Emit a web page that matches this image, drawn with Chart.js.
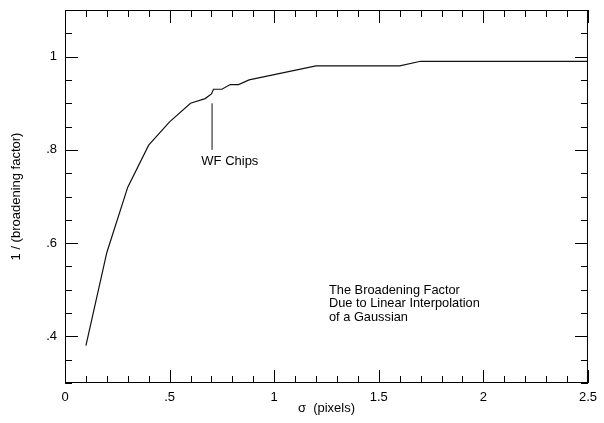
<!DOCTYPE html>
<html>
<head>
<meta charset="utf-8">
<script src="https://cdn.jsdelivr.net/npm/chart.js@4"></script>
<style>
  html, body { margin: 0; padding: 0; background: #fff; }
  #wrap { width: 604px; height: 423px; }
</style>
</head>
<body>
<div id="wrap"><canvas id="curve"></canvas></div>
<script>
// valores
const sigma  = [0.1, 0.2, 0.3, 0.4, 0.5, 0.6, 0.67, 0.70, 0.71, 0.75, 0.79, 0.83, 0.88, 1.2, 1.6, 1.7, 2.5];
const factor = [0.38, 0.58, 0.72, 0.81, 0.86, 0.90, 0.91, 0.92, 0.93, 0.93, 0.94, 0.94, 0.95, 0.98, 0.98, 0.99, 0.99];
const markerX = [0.703, 0.703];
const markerY = [0.80, 0.90];
const xTickLabels = { '0': '0', '0.5': '.5', '1': '1', '1.5': '1.5', '2': '2', '2.5': '2.5' };
const yTickLabels = { '0.4': '.4', '0.6': '.6', '0.8': '.8', '1': '1' };
const noteLines = ['The Broadening Factor', 'Due to Linear Interpolation', 'of a Gaussian'];

const FONT = 'Liberation Sans, Arial, Helvetica, sans-serif';
const key = v => String(Math.round(v * 100) / 100);

// ticks hacia adentro en los cuatro lados + textos
const frameTicks = {
    id: 'frameTicks',
    afterDraw(chart) {
        const ctx = chart.ctx;
        const a = chart.chartArea;
        const xs = chart.scales.x, ys = chart.scales.y;
        ctx.save();
        ctx.strokeStyle = '#000';
        ctx.lineWidth = 1;
        ctx.strokeRect(a.left + 0.5, a.top + 0.5, a.right - a.left - 1, a.bottom - a.top - 1);
        ctx.beginPath();
        xs.ticks.forEach(t => {
            const px = Math.round(xs.getPixelForValue(t.value)) + 0.5;
            const len = xTickLabels[key(t.value)] !== undefined ? 13 : 7;
            ctx.moveTo(px, a.bottom); ctx.lineTo(px, a.bottom - len);
            ctx.moveTo(px, a.top); ctx.lineTo(px, a.top + len);
        });
        ys.ticks.forEach(t => {
            const py = Math.round(ys.getPixelForValue(t.value)) + 0.5;
            const len = yTickLabels[key(t.value)] !== undefined ? 13 : 7;
            ctx.moveTo(a.left, py); ctx.lineTo(a.left + len, py);
            ctx.moveTo(a.right, py); ctx.lineTo(a.right - len, py);
        });
        ctx.stroke();

        ctx.fillStyle = '#000';
        ctx.font = '13px ' + FONT;
        ctx.textAlign = 'center';
        ctx.textBaseline = 'middle';
        ctx.fillText('WF Chips', xs.getPixelForValue(0.788), ys.getPixelForValue(0.776));

        ctx.font = '12.8px ' + FONT;
        ctx.textAlign = 'left';
        const nx = xs.getPixelForValue(1.262);
        const ny = ys.getPixelForValue(0.499);
        noteLines.forEach((s, i) => ctx.fillText(s, nx, ny + i * 13.5));
        ctx.restore();
    }
};

const ctxEl = document.getElementById('curve');
new Chart(ctxEl, {
    type: 'line',
    data: {
        datasets: [{
            data: sigma.map((s, i) => ({ x: s, y: factor[i] })),
            borderColor: '#111',
            borderWidth: 1.2,
            pointRadius: 0,
            tension: 0
        }, {
            data: markerX.map((s, i) => ({ x: s, y: markerY[i] })),
            borderColor: '#111',
            borderWidth: 1,
            pointRadius: 0
        }]
    },
    options: {
        responsive: true,
        maintainAspectRatio: false,
        animation: false,
        layout: { padding: { top: 10, right: 12, left: 0, bottom: 0 } },
        plugins: { legend: { display: false }, tooltip: { enabled: false } },
        scales: {
            x: {
                type: 'linear',
                min: 0, max: 2.5,
                afterFit: s => { s.height = 40; },
                grid: { display: false, drawTicks: false },
                border: { display: false },
                ticks: {
                    stepSize: 0.1,
                    autoSkip: false,
                    maxRotation: 0,
                    padding: 7,
                    color: '#000',
                    font: { family: FONT, size: 13 },
                    callback: v => xTickLabels[key(v)] || ''
                },
                title: {
                    display: true,
                    text: 'σ  (pixels)',
                    color: '#000',
                    font: { family: FONT, size: 13 },
                    padding: { top: 0, bottom: 7 }
                }
            },
            y: {
                min: 0.3, max: 1.1,
                afterFit: s => { s.width = 65; },
                grid: { display: false, drawTicks: false },
                border: { display: false },
                ticks: {
                    stepSize: 0.05,
                    autoSkip: false,
                    padding: 8,
                    color: '#000',
                    // etiquetas vacias con fuente minima para no reservar espacio arriba
                    font: c => ({ family: FONT, size: yTickLabels[key(c.tick ? c.tick.value : 0)] ? 13 : 1 }),
                    callback: v => yTickLabels[key(v)] || ''
                },
                title: {
                    display: true,
                    text: '1 / (broadening factor)',
                    color: '#000',
                    font: { family: FONT, size: 13 },
                    padding: { top: 9, bottom: 0 }
                }
            }
        }
    },
    plugins: [frameTicks]
});
</script>
</body>
</html>
